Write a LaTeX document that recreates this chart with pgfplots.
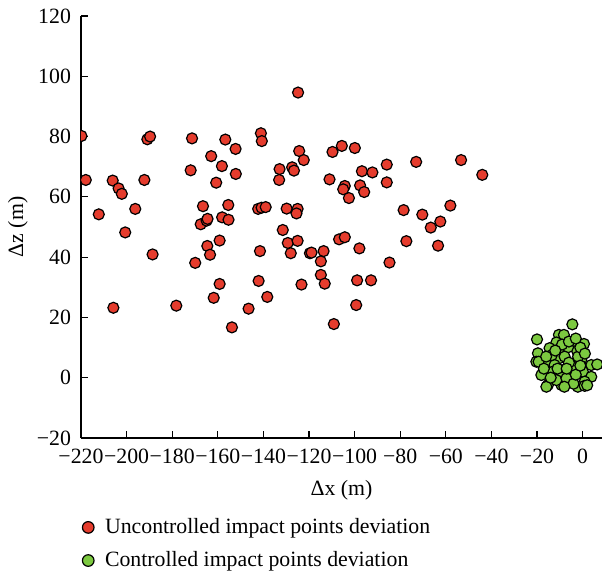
\documentclass[border=0pt]{standalone}
\usepackage{pgfplots}
\pgfplotsset{compat=1.18}
\usepackage{fontspec}
\setmainfont{Liberation Serif}
\definecolor{ptred}{RGB}{229,60,45}
\definecolor{ptgreen}{RGB}{124,201,64}
\begin{document}
\begin{tikzpicture}[font=\fontsize{10.9}{13}\selectfont]
\begin{axis}[
  scale only axis,
  width=260.5pt, height=211pt,
  xmin=-220, xmax=8.5, ymin=-20, ymax=120,
  axis lines=left, axis line style={-, line width=1pt},
  clip marker paths=true,
  tick align=inside, major tick length=3.7pt,
  every tick/.style={black, line width=0.6pt},
  xtick={-220,-200,...,0},
  xticklabels={−220,−200,−180,−160,−140,−120,−100,−80,−60,−40,−20,0},
  ytick={-20,0,...,120},
  yticklabels={−20,0,20,40,60,80,100,120},
  x tick label style={yshift=-2pt},
  y tick label style={xshift=-1.5pt},
  xlabel={Δx (m)}, ylabel={Δz (m)},
  xlabel style={at={(axis description cs:0.5,-0.123)}, anchor=center},
  ylabel style={at={(axis description cs:-0.121,0.5)}, anchor=center},
  legend image code/.code={\draw[#1, mark size=2.9pt] plot coordinates {(0pt,0pt)};},
  legend style={at={(axis description cs:0.002,-0.18)}, anchor=north west, draw=none, fill=none, inner sep=0pt, row sep=3.5pt, cells={anchor=west},
    /tikz/every odd column/.style={column sep=3.5pt}},
  legend cell align=left,
]
\addplot[only marks, mark=*, mark size=2.75pt, mark options={fill=ptred, draw=black, line width=0.6pt}] coordinates {
(-219.8,80.2) (-217.9,65.6) (-206.1,65.4) (-203.5,62.8) (-202.1,61.0) (-192.2,65.6)
(-190.9,79.1) (-189.7,80.0) (-196.2,56.0) (-212.2,54.2) (-171.3,79.4) (-171.9,68.8)
(-162.9,73.5) (-156.7,79.0) (-152.2,75.9) (-158.2,70.2) (-160.7,64.7) (-152.1,67.6)
(-141.1,81.1) (-140.7,78.5) (-132.9,69.2) (-133.1,65.6) (-166.5,56.9) (-155.4,57.3)
(-142.3,56.0) (-140.8,56.4) (-139.0,56.6) (-129.8,56.1) (-124.8,94.6) (-124.3,75.2)
(-122.3,72.2) (-127.4,69.8) (-126.6,68.7) (-109.7,74.9) (-105.6,76.9) (-99.9,76.2)
(-96.8,68.5) (-92.2,68.1) (-85.9,70.7) (-85.9,64.8) (-73.0,71.6) (-53.3,72.2)
(-44.0,67.3) (-111.0,65.8) (-104.3,63.6) (-105.0,62.5) (-102.5,59.6) (-97.6,63.8)
(-95.8,61.6) (-125.0,56.0) (-125.5,54.5) (-78.5,55.6) (-70.3,54.1) (-58.0,57.1)
(-200.6,48.2) (-188.6,40.9) (-205.8,23.2) (-178.2,23.9) (-167.5,50.9) (-164.9,52.1)
(-164.5,52.7) (-158.1,53.2) (-155.3,52.4) (-159.2,45.5) (-164.6,43.7) (-163.4,40.8)
(-169.9,38.1) (-159.2,31.1) (-161.8,26.5) (-153.8,16.7) (-146.5,22.9) (-142.1,32.1)
(-138.3,26.8) (-141.5,42.0) (-131.5,49.0) (-129.3,44.7) (-125.0,45.4) (-128.0,41.3)
(-119.6,41.3) (-118.9,41.5) (-113.6,42.0) (-114.8,38.6) (-114.8,34.1) (-113.1,31.2)
(-123.3,30.9) (-106.8,45.9) (-104.3,46.6) (-97.9,42.9) (-84.7,38.2) (-98.9,32.3)
(-92.8,32.3) (-99.3,24.1) (-109.1,17.8) (-62.4,51.8) (-66.6,49.8) (-77.3,45.3)
(-63.4,43.8)
};
\addlegendentry{Uncontrolled impact points deviation}
\addplot[only marks, mark=*, mark size=2.75pt, mark options={fill=ptgreen, draw=black, line width=0.6pt}] coordinates {
(-4.5,17.7) (-20.0,12.7) (-10.4,14.2) (-8.2,14.2) (-11.5,11.7) (-4.3,11.9)
(0.6,11.2) (-14.5,9.8) (-19.6,8.1) (-2.5,9.0) (-8.6,8.6) (-6.4,10.1)
(-20.3,5.3) (-15.9,4.8) (-10.4,6.4) (-7.9,7.0) (-0.6,5.9) (-12.3,4.2)
(-3.9,3.6) (3.8,4.2) (6.4,4.4) (-18.1,0.9) (-13.0,2.0) (-9.3,2.0)
(-5.7,0.9) (0.1,2.0) (3.8,0.3) (-15.2,-2.4) (-9.3,-2.4) (-5.0,-1.3)
(0.9,-1.3) (-11.5,-0.8) (-7.1,-0.2) (-2.1,-3.0) (-15.9,-3.0) (-19.3,5.3)
(0.9,-2.7) (-13.5,7.5) (-6.0,5.0) (-2.0,7.0) (-1.0,10.0) (-9.0,11.0)
(-12.0,9.0) (-16.0,7.0) (-4.0,-2.0) (-11.0,3.0) (-7.0,3.0) (-3.0,1.0)
(1.0,8.0) (-17.0,3.0) (-8.0,-3.0) (-1.0,4.0) (2.0,-2.5) (-14.0,0.0)
(-6.0,12.0) (-3.0,13.0)
};
\addlegendentry{Controlled impact points deviation}
\end{axis}
\pgfresetboundingbox
\path (current axis.south west) ++(-40.5pt,-66.5pt) rectangle ++(301pt,285.5pt);
\end{tikzpicture}
\end{document}
